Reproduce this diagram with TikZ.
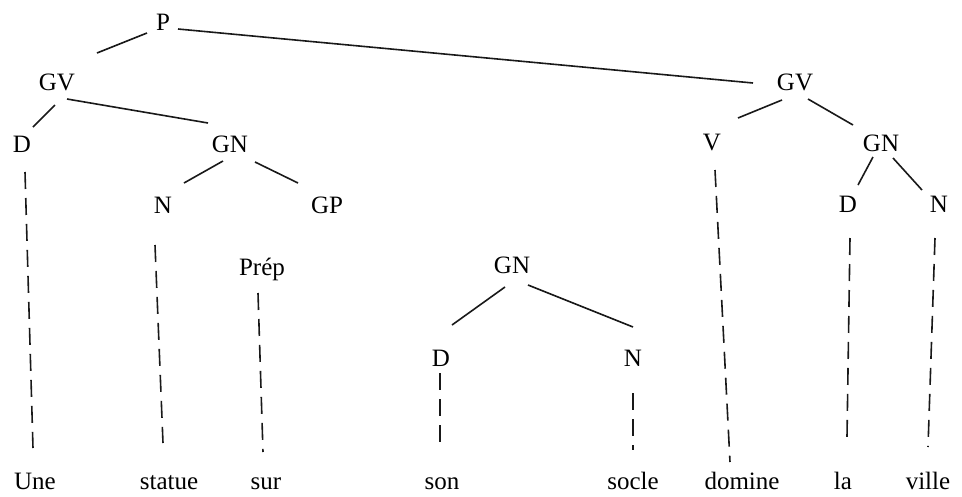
\documentclass[tikz,border=0pt]{standalone}
\usepackage{fontspec}
\setmainfont{Liberation Serif}
\begin{document}
\begin{tikzpicture}[x=1pt,y=-1pt,
  lbl/.style={anchor=base,inner sep=0pt,font=\fontsize{25}{25}\selectfont,text=black},
  branch/.style={draw=black!90,line width=1.6pt},
  leafline/.style={draw=black!90,line width=1.6pt,dash pattern=on 17pt off 9pt}]
\useasboundingbox[fill=white] (0,0) rectangle (962,496);
% labels
\node[lbl] (P) at (163,30) {P};
\node[lbl] (GVa) at (57,90) {GV};
\node[lbl] (Da) at (22,152) {D};
\node[lbl] (GNa) at (230,152) {GN};
\node[lbl] (Na) at (163,213) {N};
\node[lbl] (GP) at (327,213) {GP};
\node[lbl] (Prep) at (262,275) {Prép};
\node[lbl] (GNb) at (512,273) {GN};
\node[lbl] (Db) at (441,366) {D};
\node[lbl] (Nb) at (633,366) {N};
\node[lbl] (GVb) at (795,90) {GV};
\node[lbl] (V) at (712,150) {V};
\node[lbl] (GNc) at (881,151) {GN};
\node[lbl] (Dc) at (848,212) {D};
\node[lbl] (Nc) at (939,212) {N};
% words
\node[lbl] (Une) at (35,489) {Une};
\node[lbl] (statue) at (169,489) {statue};
\node[lbl] (sur) at (266,489) {sur};
\node[lbl] (son) at (442,489) {son};
\node[lbl] (socle) at (633,489) {socle};
\node[lbl] (domine) at (742,489) {domine};
\node[lbl] (la) at (843,489) {la};
\node[lbl] (ville) at (928,489) {ville};
% branches
\draw[branch] ([shift={(-16,3)}]P.base) -- ([shift={(40,-37)}]GVa.base);
\draw[branch] ([shift={(15,-1)}]P.base) -- ([shift={(-42,-7)}]GVb.base);
\draw[branch] ([shift={(-2,15)}]GVa.base) -- ([shift={(11,-25)}]Da.base);
\draw[branch] ([shift={(10,9)}]GVa.base) -- ([shift={(-22,-29)}]GNa.base);
\draw[branch] ([shift={(-7,9)}]GNa.base) -- ([shift={(21,-30)}]Na.base);
\draw[branch] ([shift={(25,10)}]GNa.base) -- ([shift={(-29,-30)}]GP.base);
\draw[branch] ([shift={(-7,14)}]GNb.base) -- ([shift={(11,-41)}]Db.base);
\draw[branch] ([shift={(16,12)}]GNb.base) -- ([shift={(0,-39)}]Nb.base);
\draw[branch] ([shift={(-13,10)}]GVb.base) -- ([shift={(26,-32)}]V.base);
\draw[branch] ([shift={(13,9)}]GVb.base) -- ([shift={(-28,-26)}]GNc.base);
\draw[branch] ([shift={(-8,6)}]GNc.base) -- ([shift={(10,-27)}]Dc.base);
\draw[branch] ([shift={(12,7)}]GNc.base) -- ([shift={(-17,-22)}]Nc.base);
% leaf lines
\draw[leafline] ([shift={(3,20)}]Da.base) -- ([shift={(-2,-41)}]Une.base);
\draw[leafline] ([shift={(-8,32)}]Na.base) -- ([shift={(-6,-46)}]statue.base);
\draw[leafline] ([shift={(-4,18)}]Prep.base) -- ([shift={(-3,-37)}]sur.base);
\draw[leafline] ([shift={(-1,7)}]Db.base) -- ([shift={(-2,-39)}]son.base);
\draw[leafline] ([shift={(0,27)}]Nb.base) -- ([shift={(0,-39)}]socle.base);
\draw[leafline] ([shift={(3,20)}]V.base) -- ([shift={(-12,-27)}]domine.base);
\draw[leafline] ([shift={(2,26)}]Dc.base) -- ([shift={(4,-52)}]la.base);
\draw[leafline] ([shift={(-4,26)}]Nc.base) -- ([shift={(0,-42)}]ville.base);
\end{tikzpicture}
\end{document}
